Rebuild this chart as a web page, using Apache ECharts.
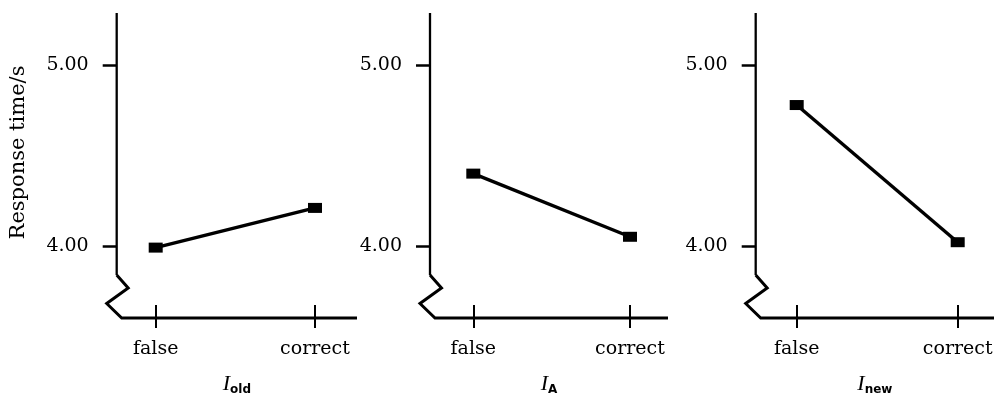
<!DOCTYPE html>
<html>
<head>
<meta charset="utf-8">
<script src="https://cdn.jsdelivr.net/npm/echarts@6/dist/echarts.min.js"></script>
<style>
  html, body { margin: 0; padding: 0; background: #fff; }
  #chart { width: 995px; height: 397px; }
</style>
</head>
<body>
<div id="chart"></div>
<script>
// Categories on each x-axis
const categories = ['false', 'correct'];
// Labelled y ticks
const yTicks = [4.00, 5.00];
// Subscripts of the three x-axis names (I_old, I_A, I_new)
const panelSubscripts = ['old', 'A', 'new'];
// Mean response time (s) for false / correct
const iOld = [3.99, 4.21];
const iA = [4.40, 4.05];
const iNew = [4.78, 4.02];
const seriesValues = [iOld, iA, iNew];

const yAxisTitle = 'Response time/s';

// Panel geometry (px): y-axis position, first and last category, end of x-axis
const layout = [
  { axis: 116.7, first: 155.7, last: 315,   end: 357 },
  { axis: 430,   first: 473.3, last: 630,   end: 668 },
  { axis: 755.7, first: 796.7, last: 957.7, end: 994 }
];
const TOP = 13, AXIS_Y = 318;
const Y_MIN = 3.6, Y_MAX = 5.29;
const SERIF = 'DejaVu Serif';

const grids = [], xAxes = [], yAxes = [], series = [];

layout.forEach(function (p, i) {
  const unit = (p.last - p.first) / (categories.length - 1);
  const xMin = -(p.first - p.axis) / unit;
  const xMax = (p.end - p.first) / unit;
  const catIdx = categories.map(function (_, k) { return k; });

  grids.push({
    left: p.axis, top: TOP, width: p.end - p.axis, height: AXIS_Y - TOP,
    containLabel: false, outerBoundsMode: 'none'
  });

  // main x-axis: upper half of the crossing ticks, labels and name
  xAxes.push({
    type: 'value', gridIndex: i, position: 'bottom', min: xMin, max: xMax,
    axisLine: { show: false, onZero: false },
    splitLine: { show: false },
    axisTick: { show: true, inside: true, length: 13, customValues: catIdx,
      lineStyle: { color: '#000', width: 2 } },
    axisLabel: { show: true, customValues: catIdx, margin: 22,
      formatter: function (v) { return categories[Math.round(v)]; },
      color: '#000', fontFamily: SERIF, fontSize: 19 },
    name: '{i|I}{s|' + panelSubscripts[i] + '}',
    nameLocation: 'middle', nameGap: 55,
    nameTextStyle: {
      rich: {
        i: { fontFamily: 'Liberation Serif', fontStyle: 'italic', fontSize: 22, color: '#000',
             verticalAlign: 'top', lineHeight: 23 },
        s: { fontFamily: 'DejaVu Sans', fontWeight: 'bold', fontSize: 12, color: '#000',
             verticalAlign: 'bottom', lineHeight: 23 }
      }
    }
  });
  // companion x-axis: lower half of the crossing ticks
  xAxes.push({
    type: 'value', gridIndex: i, position: 'bottom', min: xMin, max: xMax,
    axisLine: { show: false, onZero: false },
    splitLine: { show: false },
    axisTick: { show: true, inside: false, length: 10, customValues: catIdx,
      lineStyle: { color: '#000', width: 2 } },
    axisLabel: { show: false }
  });

  const yAxis = {
    type: 'value', gridIndex: i, min: Y_MIN, max: Y_MAX,
    axisLine: { show: false, onZero: false },
    splitLine: { show: false },
    axisTick: { show: true, inside: false, length: 14, customValues: yTicks,
      lineStyle: { color: '#000', width: 2.5 } },
    axisLabel: { show: true, customValues: yTicks, margin: 28,
      formatter: function (v) { return v.toFixed(2); },
      color: '#000', fontFamily: SERIF, fontSize: 19 }
  };
  if (i === 0) {
    yAxis.name = yAxisTitle;
    yAxis.nameLocation = 'middle';
    yAxis.nameRotate = 90;
    yAxis.nameGap = 88;
    yAxis.nameTextStyle = { color: '#000', fontFamily: SERIF, fontSize: 21, padding: [0, 0, 0, 26] };
  }
  yAxes.push(yAxis);

  // axis frame: vertical axis with a break zigzag, then the horizontal axis
  series.push({
    type: 'custom', xAxisIndex: 2 * i, yAxisIndex: i, clip: false, silent: true,
    data: [[xMin, Y_MIN]],
    renderItem: function (params, api) {
      const top = api.coord([xMin, Y_MAX]);
      const bl = api.coord([xMin, Y_MIN]);
      const br = api.coord([xMax, Y_MIN]);
      return {
        type: 'group',
        children: [
          { type: 'polyline', shape: { points: [top, [bl[0], bl[1] - 43]] },
            style: { stroke: '#000', lineWidth: 2.3, fill: null } },
          { type: 'polyline',
            shape: { points: [[bl[0], bl[1] - 43], [bl[0] + 11.5, bl[1] - 30],
                              [bl[0] - 10, bl[1] - 14.5], [bl[0] + 5, bl[1]], br] },
            style: { stroke: '#000', lineWidth: 3, fill: null, lineJoin: 'miter' } }
        ]
      };
    }
  });

  // the data line
  series.push({
    type: 'line', xAxisIndex: 2 * i, yAxisIndex: i,
    data: seriesValues[i].map(function (v, k) { return [k, v]; }),
    symbol: 'rect', symbolSize: [14, 10],
    lineStyle: { color: '#000', width: 3.4 },
    itemStyle: { color: '#000' },
    z: 5
  });
});

const chart = echarts.init(document.getElementById('chart'), null, { renderer: 'canvas' });
chart.setOption({
  animation: false,
  backgroundColor: '#fff',
  grid: grids,
  xAxis: xAxes,
  yAxis: yAxes,
  series: series
});
</script>
</body>
</html>
